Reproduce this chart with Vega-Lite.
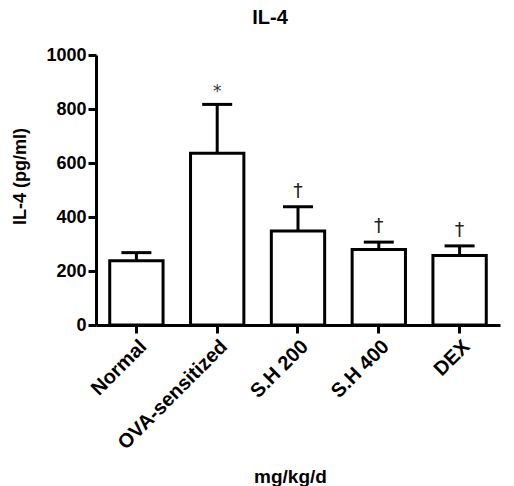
{
  "$schema": "https://vega.github.io/schema/vega-lite/v6.json",
  "width": 404,
  "height": 270,
  "autosize": "none",
  "padding": {"left": 96, "top": 55, "right": 14, "bottom": 161},
  "background": "white",
  "config": {
    "font": "Liberation Sans",
    "view": {"stroke": null},
    "axis": {"grid": false, "domainColor": "black", "domainWidth": 3, "tickColor": "black", "tickWidth": 3, "tickSize": 8, "labelColor": "black", "titleColor": "black", "labelFont": "Liberation Sans", "titleFont": "Liberation Sans", "labelFontWeight": "bold", "titleFontWeight": "bold"}
  },
  "title": {"text": "IL-4", "fontSize": 20, "fontWeight": "bold", "font": "Liberation Sans", "color": "black", "dx": -28, "offset": 18, "anchor": "middle"},
  "data": {
    "values": [
      {"group": "Normal", "mean": 238, "upper": 268, "sig": ""},
      {"group": "OVA-sensitized", "mean": 636, "upper": 817, "sig": "*"},
      {"group": "S.H 200", "mean": 348, "upper": 438, "sig": "†"},
      {"group": "S.H 400", "mean": 280, "upper": 307, "sig": "†"},
      {"group": "DEX", "mean": 257, "upper": 293, "sig": "†"}
    ]
  },
  "encoding": {
    "x": {
      "field": "group", "type": "nominal", "sort": null,
      "scale": {"paddingInner": 0.34, "paddingOuter": 0.17},
      "axis": {"title": "mg/kg/d", "labelAngle": -45, "labelFontSize": 20, "titleFontSize": 19, "labelPadding": 3, "titlePadding": 15, "titleX": 194, "domainWidth": 3}
    }
  },
  "layer": [
    {
      "mark": {"type": "rule", "color": "black", "strokeWidth": 3},
      "encoding": {
        "y": {"field": "mean", "type": "quantitative", "scale": {"domain": [0, 1000]}, "axis": {"title": "IL-4 (pg/ml)", "values": [0, 200, 400, 600, 800, 1000], "format": "d", "labelFontSize": 18, "titleFontSize": 18, "labelPadding": 2, "titleX": -76, "titleY": 121, "titleBaseline": "middle"}},
        "y2": {"field": "upper"}
      }
    },
    {
      "mark": {"type": "tick", "color": "black", "size": 30, "thickness": 3, "opacity": 1},
      "encoding": {"y": {"field": "upper", "type": "quantitative"}}
    },
    {
      "mark": {"type": "bar", "fill": "white", "stroke": "black", "strokeWidth": 3},
      "encoding": {"y": {"field": "mean", "type": "quantitative"}}
    },
    {
      "transform": [{"filter": "datum.sig == '*'"}],
      "mark": {"type": "text", "font": "DejaVu Sans", "fontSize": 17, "color": "#333", "baseline": "middle", "dy": -12},
      "encoding": {"y": {"field": "upper", "type": "quantitative"}, "text": {"field": "sig"}}
    },
    {
      "transform": [{"filter": "datum.sig == '†'"}],
      "mark": {"type": "text", "font": "DejaVu Sans", "fontSize": 19, "color": "#222", "baseline": "middle", "dy": -16},
      "encoding": {"y": {"field": "upper", "type": "quantitative"}, "text": {"field": "sig"}}
    }
  ]
}
